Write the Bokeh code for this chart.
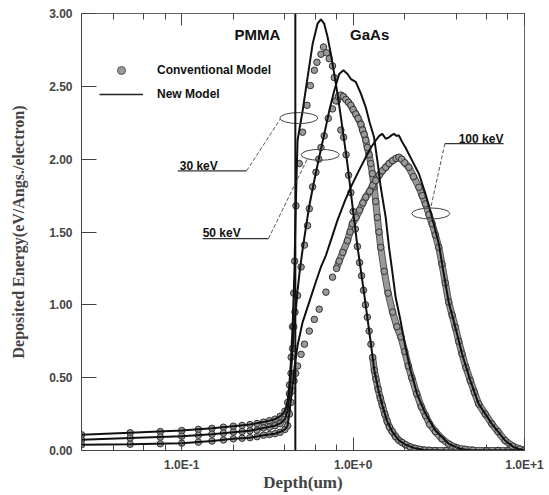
from bokeh.plotting import figure
from bokeh.models import (Range1d, LogAxis, LogTicker, FixedTicker, CustomJSTickFormatter,
                          Span, Legend, LegendItem, Label)
from bokeh.embed import file_html
from bokeh.resources import INLINE
from bokeh.core.properties import value

# ---------------- data ----------------
interface_depth = 0.46  # PMMA / GaAs boundary (um)

# New Model (solid lines)
new_30_depth = [0.026, 0.05, 0.1, 0.15, 0.2, 0.25, 0.3, 0.35, 0.38, 0.40, 0.415, 0.425, 0.434, 0.445, 0.455,
                0.46, 0.468, 0.474, 0.507, 0.542, 0.58, 0.62, 0.649, 0.678, 0.709, 0.742, 0.776, 0.81, 0.848,
                0.886, 0.93, 0.97, 1.01, 1.06, 1.11, 1.16, 1.21, 1.27, 1.33, 1.40, 1.48, 1.58, 1.69, 1.85, 2.02,
                2.3, 2.6, 3.5, 10.0]
new_30_energy = [0.108, 0.122, 0.137, 0.152, 0.167, 0.178, 0.195, 0.215, 0.24, 0.27, 0.34, 0.46, 0.62, 0.9, 1.25,
                 1.55, 1.9, 2.13, 2.33, 2.56, 2.79, 2.93, 2.96, 2.93, 2.84, 2.72, 2.585, 2.45, 2.29,
                 2.13, 1.95, 1.77, 1.6, 1.40, 1.235, 1.075, 0.915, 0.73, 0.55, 0.42, 0.31, 0.2, 0.13, 0.07, 0.04,
                 0.015, 0.003, 0.0, 0.0]

new_50_depth = [0.026, 0.05, 0.1, 0.15, 0.2, 0.25, 0.3, 0.35, 0.38, 0.40, 0.415, 0.425, 0.434, 0.445, 0.455,
                0.462, 0.474, 0.49, 0.51, 0.53, 0.555, 0.59, 0.63, 0.678, 0.725, 0.776, 0.829, 0.878, 0.927,
                0.97, 1.036, 1.11, 1.185, 1.25, 1.325, 1.385, 1.449, 1.549, 1.62, 1.69, 1.77, 1.89, 2.02, 2.165,
                2.36, 2.645, 3.02, 3.61, 4.2, 4.9, 10.0]
new_50_energy = [0.073, 0.085, 0.098, 0.112, 0.126, 0.135, 0.155, 0.17, 0.19, 0.215, 0.275, 0.39, 0.53, 0.72, 0.9,
                 0.95, 1.1, 1.25, 1.4, 1.53, 1.68, 1.84, 2.0, 2.17, 2.33, 2.47, 2.585, 2.61, 2.585,
                 2.55, 2.53, 2.45, 2.356, 2.25, 2.15, 1.99, 1.807, 1.60, 1.395, 1.235, 1.052, 0.892, 0.709, 0.549,
                 0.389, 0.252, 0.137, 0.046, 0.012, 0.0, 0.0]

new_100_depth = [0.026, 0.05, 0.1, 0.15, 0.2, 0.25, 0.3, 0.35, 0.38, 0.40, 0.415, 0.425, 0.434, 0.445, 0.455,
                 0.462, 0.474, 0.507, 0.555, 0.607, 0.649, 0.694, 0.75, 0.81, 0.9, 0.99, 1.09, 1.185, 1.27,
                 1.355, 1.42, 1.48, 1.55, 1.62, 1.68, 1.73, 1.79, 1.85, 1.93, 2.02, 2.21, 2.42, 2.645, 2.89,
                 3.16, 3.35, 3.61, 3.95, 4.32, 4.83, 5.4, 6.45, 7.7, 8.6, 9.4, 10.0]
new_100_energy = [0.039, 0.043, 0.05, 0.065, 0.08, 0.088, 0.105, 0.115, 0.13, 0.145, 0.17, 0.26, 0.36, 0.46, 0.57,
                  0.63, 0.72, 0.88, 1.02, 1.16, 1.26, 1.34, 1.46, 1.58, 1.72, 1.83, 1.93, 2.013, 2.08,
                  2.128, 2.16, 2.174, 2.14, 2.15, 2.165, 2.174, 2.16, 2.162, 2.12, 2.08, 1.99, 1.9, 1.76, 1.60,
                  1.42, 1.24, 1.02, 0.846, 0.664, 0.48, 0.32, 0.183, 0.069, 0.025, 0.008, 0.003]

# Conventional Model (circle markers)
conv_30_depth = [0.026, 0.05, 0.075, 0.1, 0.125, 0.15, 0.175, 0.2, 0.225, 0.25, 0.275, 0.3, 0.325, 0.35, 0.375,
                 0.4, 0.415, 0.425, 0.435, 0.443, 0.45, 0.456, 0.464, 0.485, 0.507, 0.538, 0.563, 0.594, 0.615,
                 0.649, 0.672, 0.70, 0.725, 0.758, 0.776, 0.81, 0.848, 0.88, 0.91, 0.94, 0.97, 1.0, 1.03, 1.06,
                 1.09, 1.12, 1.15, 1.18, 1.21, 1.24, 1.27, 1.30, 1.33, 1.36, 1.40, 1.44, 1.48, 1.53, 1.58, 1.63,
                 1.69, 1.77, 1.85, 1.93, 2.02, 2.15, 2.3, 2.45, 2.6, 2.8, 3.0, 3.5, 4.0, 5.0, 6.0, 7.0, 8.0,
                 9.0, 10.0]
conv_30_energy = [0.108, 0.122, 0.13, 0.137, 0.145, 0.152, 0.16, 0.167, 0.172, 0.178, 0.185, 0.195, 0.205, 0.215,
                  0.235, 0.27, 0.33, 0.45, 0.64, 0.85, 1.08, 1.3, 1.68, 1.97, 2.185, 2.37, 2.505, 2.61, 2.665,
                  2.72, 2.77, 2.73, 2.69, 2.64, 2.56, 2.40, 2.2, 2.15, 2.03, 1.89, 1.77, 1.64, 1.52, 1.40,
                  1.29, 1.2, 1.1, 1.0, 0.915, 0.82, 0.73, 0.64, 0.55, 0.49, 0.42, 0.36, 0.31, 0.25, 0.2, 0.16,
                  0.13, 0.095, 0.07, 0.055, 0.04, 0.025, 0.015, 0.008, 0.003, 0.001, 0.0, 0.0, 0.0, 0.0, 0.0,
                  0.0, 0.0, 0.0, 0.0]

conv_50_depth = [0.026, 0.05, 0.075, 0.1, 0.125, 0.15, 0.175, 0.2, 0.225, 0.25, 0.275, 0.3, 0.325, 0.35, 0.375,
                 0.4, 0.415, 0.425, 0.434, 0.443, 0.45, 0.458, 0.474, 0.497, 0.52, 0.542, 0.555, 0.58, 0.607,
                 0.63, 0.649, 0.678, 0.716, 0.758, 0.793, 0.82, 0.848, 0.877, 0.907, 0.94, 0.97, 1.0, 1.036,
                 1.07, 1.11, 1.135, 1.16, 1.185, 1.21, 1.24, 1.267, 1.295, 1.325, 1.355, 1.385, 1.415, 1.449,
                 1.52, 1.6, 1.7, 1.8, 1.9, 2.0, 2.1, 2.2, 2.35, 2.5, 2.645, 2.8, 3.02, 3.3, 3.61, 4.0, 4.5,
                 5.0, 6.0, 7.0, 8.0, 9.0, 10.0]
conv_50_energy = [0.073, 0.085, 0.092, 0.098, 0.105, 0.112, 0.119, 0.126, 0.13, 0.135, 0.14, 0.155, 0.16, 0.17,
                  0.185, 0.215, 0.275, 0.39, 0.53, 0.7, 0.85, 0.95, 1.064, 1.26, 1.41, 1.544, 1.66, 1.81, 1.91,
                  2.0, 2.08, 2.16, 2.28, 2.345, 2.40, 2.43, 2.44, 2.43, 2.41, 2.39, 2.37, 2.34, 2.31,
                  2.28, 2.24, 2.2, 2.17, 2.13, 2.08, 2.03, 1.97, 1.9, 1.81, 1.71, 1.60, 1.5, 1.395,
                  1.23, 1.08, 0.95, 0.85, 0.78, 0.68, 0.58, 0.5, 0.39, 0.3, 0.24, 0.18, 0.13, 0.08, 0.045,
                  0.02, 0.008, 0.002, 0.0, 0.0, 0.0, 0.0, 0.0]

conv_100_depth = [0.026, 0.05, 0.075, 0.1, 0.125, 0.15, 0.175, 0.2, 0.225, 0.25, 0.275, 0.3, 0.325, 0.35, 0.375,
                  0.4, 0.415, 0.425, 0.434, 0.443, 0.452, 0.462, 0.474, 0.497, 0.52, 0.555, 0.594, 0.634,
                  0.694, 0.758, 0.80, 0.829, 0.87, 0.927, 0.96, 0.99, 1.04, 1.09, 1.14, 1.185, 1.25, 1.3,
                  1.355, 1.42, 1.48, 1.549, 1.62, 1.7, 1.78, 1.85, 1.92, 2.0, 2.115, 2.25, 2.42, 2.53, 2.645,
                  2.77, 2.89, 3.02, 3.16, 3.3, 3.45, 3.61, 3.78, 3.95, 4.13, 4.32, 4.55, 4.83, 5.1, 5.4, 5.9,
                  6.45, 7.0, 7.7, 8.5, 9.4, 10.0]
conv_100_energy = [0.039, 0.043, 0.046, 0.05, 0.057, 0.065, 0.072, 0.08, 0.084, 0.088, 0.095, 0.105, 0.11, 0.115,
                   0.125, 0.145, 0.17, 0.25, 0.33, 0.41, 0.48, 0.53, 0.58, 0.66, 0.73, 0.82, 0.90, 0.97,
                   1.087, 1.19, 1.25, 1.30, 1.36, 1.44, 1.5, 1.556, 1.6, 1.65, 1.7, 1.739, 1.78, 1.82,
                   1.853, 1.89, 1.92, 1.944, 1.97, 1.99, 2.005, 2.013, 2.0, 1.975, 1.944, 1.88, 1.807, 1.75,
                   1.693, 1.62, 1.556, 1.48, 1.395, 1.28, 1.15, 1.02, 0.93, 0.846, 0.75, 0.664, 0.57, 0.48,
                   0.4, 0.32, 0.25, 0.183, 0.13, 0.069, 0.03, 0.01, 0.003]

# Axis ticks
x_tick_values = [0.1, 1.0, 10.0]
x_tick_labels = ["1.0E-1", "1.0E+0", "1.0E+1"]
y_tick_values = [0.0, 0.5, 1.0, 1.5, 2.0, 2.5, 3.0]
y_tick_labels = ["0.00", "0.50", "1.00", "1.50", "2.00", "2.50", "3.00"]

# Callout annotations (energy labels, pointing to ellipses)
callout_labels = ["30 keV", "50 keV", "100 keV"]
callout_text_depth = [0.0973, 0.1324, 4.13]
callout_text_energy = [1.955, 1.49, 2.14]
callout_line_x0 = [0.0948, 0.1324, 3.43]
callout_line_x1 = [0.239, 0.3206, 7.55]
callout_line_y = [1.92, 1.455, 2.107]
leader_start_x = [0.239, 0.3206, 3.43]
leader_end_x = [0.376, 0.54, 2.84]
leader_end_y = [2.276, 2.0, 1.668]
ellipse_depth = [0.482, 0.643, 2.84]
ellipse_energy = [2.282, 2.03, 1.627]

# ---------------- figure ----------------
SANS = "Liberation Sans"
SERIF = "Liberation Serif"

p = figure(width=549, height=495, x_axis_type="log", output_backend="svg", toolbar_location=None,
           x_range=Range1d(0.026, 10.0), y_range=Range1d(0.0, 3.0),
           min_border_left=81, min_border_right=25, min_border_top=13, min_border_bottom=45)
p.xgrid.visible = False
p.ygrid.visible = False
p.background_fill_color = "white"
p.border_fill_color = "white"
p.outline_line_color = "#666666"
p.outline_line_width = 1

# conventional model: dense portions form a grey band
band_start = {30: 1.3, 50: 0.8, 100: 0.8}
conv = {30: (conv_30_depth, conv_30_energy), 50: (conv_50_depth, conv_50_energy),
        100: (conv_100_depth, conv_100_energy)}
for e, (xs, ys) in conv.items():
    bx = [x for x in xs if x >= band_start[e]]
    by = [y for x, y in zip(xs, ys) if x >= band_start[e]]
    p.line(bx, by, line_color="#555555", line_width=7)
    p.line(bx, by, line_color="#999999", line_width=5)
for e, (xs, ys) in conv.items():
    p.scatter(xs, ys, marker="circle", size=6.5, fill_color="#999999", line_color="#333333", line_width=1)

# new model lines
for xs, ys in [(new_30_depth, new_30_energy), (new_50_depth, new_50_energy), (new_100_depth, new_100_energy)]:
    p.line(xs, ys, line_color="#111111", line_width=2)

# interface
p.add_layout(Span(location=interface_depth, dimension="height", line_color="#111111", line_width=2))

# callouts
p.ellipse(x=ellipse_depth, y=ellipse_energy, width=38, height=11, width_units="screen", height_units="screen",
          fill_alpha=0, line_color="#444444", line_width=1)
p.segment(x0=callout_line_x0, y0=callout_line_y, x1=callout_line_x1, y1=callout_line_y,
          line_color="#333333", line_width=1.2)
p.segment(x0=leader_start_x, y0=callout_line_y, x1=leader_end_x, y1=leader_end_y,
          line_color="#555555", line_width=1, line_dash="4 2")
p.text(x=callout_text_depth, y=callout_text_energy, text=callout_labels, text_font=value(SANS),
       text_font_style="bold", text_font_size="12px", text_color="#111111", text_baseline="alphabetic")

# region labels
p.add_layout(Label(x=0.376, y=2.80, text="PMMA", text_align="right", text_font=SANS, text_font_style="bold",
                   text_font_size="15px", text_color="#111111"))
p.add_layout(Label(x=0.96, y=2.80, text="GaAs", text_align="left", text_font=SANS, text_font_style="bold",
                   text_font_size="15px", text_color="#111111"))

# legend
leg_marker = p.scatter([0.0], [-10.0], marker="circle", size=13, fill_color="#999999", line_color="#555555")
leg_line = p.line([0.03, 0.04], [-10.0, -10.0], line_color="#222222", line_width=1.5)
legend = Legend(items=[LegendItem(label="Conventional Model", renderers=[leg_marker]),
                       LegendItem(label="New Model", renderers=[leg_line])],
                location=(18, 346), orientation="vertical", glyph_width=44, glyph_height=20,
                label_height=20, label_standoff=14, spacing=4, padding=0, margin=0,
                border_line_alpha=0, background_fill_alpha=0,
                label_text_font=SANS, label_text_font_style="bold", label_text_font_size="12px",
                label_text_color="#111111")
p.add_layout(legend)

# axes
xfmt = CustomJSTickFormatter(args=dict(vals=x_tick_values, labs=x_tick_labels), code="""
let best = 0, bd = Infinity;
for (let i = 0; i < vals.length; i++) {
  const d = Math.abs(Math.log(tick) - Math.log(vals[i]));
  if (d < bd) { bd = d; best = i; }
}
return labs[best];
""")
yfmt = CustomJSTickFormatter(args=dict(vals=y_tick_values, labs=y_tick_labels), code="""
let best = 0, bd = Infinity;
for (let i = 0; i < vals.length; i++) {
  const d = Math.abs(tick - vals[i]);
  if (d < bd) { bd = d; best = i; }
}
return labs[best];
""")

xa = p.xaxis[0]
xa.ticker = LogTicker(desired_num_ticks=3)
xa.formatter = xfmt
xa.axis_label = "Depth(um)"
xa.axis_label_text_font = SERIF
xa.axis_label_text_font_style = "bold"
xa.axis_label_text_font_size = "17px"
xa.axis_label_standoff = -2
xa.major_label_text_font = SANS
xa.major_label_text_font_style = "bold"
xa.major_label_text_font_size = "12px"
xa.major_label_standoff = 7
xa.major_tick_in = 13
xa.major_tick_out = 0
xa.minor_tick_in = 6
xa.minor_tick_out = 0
xa.axis_line_color = "#444444"
xa.major_tick_line_color = "#444444"
xa.minor_tick_line_color = "#444444"

top = LogAxis(ticker=LogTicker(desired_num_ticks=3), major_label_text_font_size="6px",
              major_label_text_alpha=0,
              major_tick_in=12, major_tick_out=0, minor_tick_in=6, minor_tick_out=0,
              axis_line_color="#666666", major_tick_line_color="#444444", minor_tick_line_color="#444444",
              major_label_standoff=0)
p.add_layout(top, "above")

ya = p.yaxis[0]
ya.ticker = FixedTicker(ticks=y_tick_values, minor_ticks=[])
ya.formatter = yfmt
ya.axis_label = "Deposited Energy(eV/Angs./electron)"
ya.axis_label_text_font = SERIF
ya.axis_label_text_font_style = "bold"
ya.axis_label_text_font_size = "16px"
ya.axis_label_standoff = 19
ya.major_label_text_font = SANS
ya.major_label_text_font_style = "bold"
ya.major_label_text_font_size = "12px"
ya.major_label_standoff = 9
ya.major_tick_in = 15
ya.major_tick_out = 0
ya.minor_tick_in = 0
ya.minor_tick_out = 0
ya.axis_line_color = "#444444"
ya.major_tick_line_color = "#444444"

open("out.html", "w").write(file_html(p, INLINE))
